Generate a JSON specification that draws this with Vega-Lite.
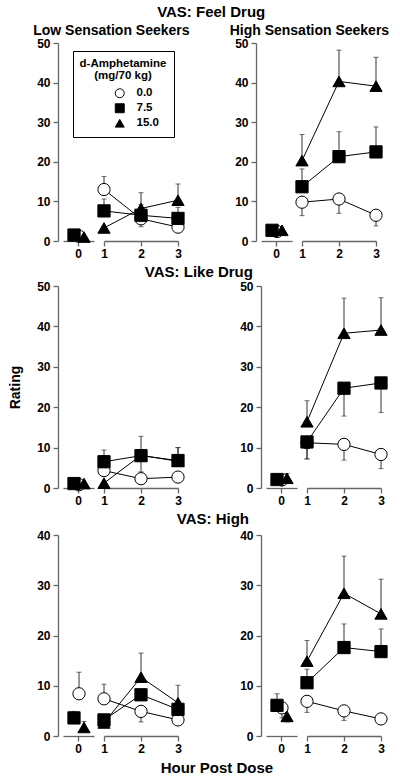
{
"$schema": "https://vega.github.io/schema/vega-lite/v6.json",
"padding": {"left": 8, "top": 5, "right": 5, "bottom": 3},
"title": {"text": "Hour Post Dose", "orient": "bottom", "fontSize": 15, "dx": 18, "offset": 7},
"datasets": {"d": [
{"m":"F","g":"low","h":0,"dose":"0.0","v":1.2,"e":1.2},{"m":"F","g":"low","h":0,"dose":"7.5","v":1.5,"e":1.5},{"m":"F","g":"low","h":0,"dose":"15.0","v":1.0,"e":1.0},
{"m":"F","g":"low","h":1,"dose":"0.0","v":13.0,"e":16.3},{"m":"F","g":"low","h":1,"dose":"7.5","v":7.6,"e":10.6},{"m":"F","g":"low","h":1,"dose":"15.0","v":3.3,"e":3.3},
{"m":"F","g":"low","h":2,"dose":"0.0","v":5.6,"e":3.6},{"m":"F","g":"low","h":2,"dose":"7.5","v":6.5,"e":9.2},{"m":"F","g":"low","h":2,"dose":"15.0","v":8.2,"e":12.2},
{"m":"F","g":"low","h":3,"dose":"0.0","v":3.5,"e":3.5},{"m":"F","g":"low","h":3,"dose":"7.5","v":5.7,"e":8.5},{"m":"F","g":"low","h":3,"dose":"15.0","v":10.3,"e":14.4},
{"m":"F","g":"high","h":0,"dose":"0.0","v":2.4,"e":2.4},{"m":"F","g":"high","h":0,"dose":"7.5","v":2.7,"e":2.7},{"m":"F","g":"high","h":0,"dose":"15.0","v":2.7,"e":2.7},
{"m":"F","g":"high","h":1,"dose":"0.0","v":9.8,"e":6.4},{"m":"F","g":"high","h":1,"dose":"7.5","v":13.7,"e":18.2},{"m":"F","g":"high","h":1,"dose":"15.0","v":20.3,"e":26.9},
{"m":"F","g":"high","h":2,"dose":"0.0","v":10.6,"e":7.0},{"m":"F","g":"high","h":2,"dose":"7.5","v":21.3,"e":27.6},{"m":"F","g":"high","h":2,"dose":"15.0","v":40.3,"e":48.2},
{"m":"F","g":"high","h":3,"dose":"0.0","v":6.5,"e":3.8},{"m":"F","g":"high","h":3,"dose":"7.5","v":22.5,"e":28.8},{"m":"F","g":"high","h":3,"dose":"15.0","v":39.1,"e":46.4},
{"m":"L","g":"low","h":0,"dose":"0.0","v":0.8,"e":0.8},{"m":"L","g":"low","h":0,"dose":"7.5","v":1.1,"e":1.1},{"m":"L","g":"low","h":0,"dose":"15.0","v":1.1,"e":1.1},
{"m":"L","g":"low","h":1,"dose":"0.0","v":4.3,"e":4.3},{"m":"L","g":"low","h":1,"dose":"7.5","v":6.5,"e":9.4},{"m":"L","g":"low","h":1,"dose":"15.0","v":1.2,"e":1.2},
{"m":"L","g":"low","h":2,"dose":"0.0","v":2.3,"e":2.3},{"m":"L","g":"low","h":2,"dose":"7.5","v":8.0,"e":12.8},{"m":"L","g":"low","h":2,"dose":"15.0","v":8.1,"e":4.0},
{"m":"L","g":"low","h":3,"dose":"0.0","v":2.7,"e":2.7},{"m":"L","g":"low","h":3,"dose":"7.5","v":6.8,"e":10.0},{"m":"L","g":"low","h":3,"dose":"15.0","v":6.6,"e":10.0},
{"m":"L","g":"high","h":0,"dose":"0.0","v":2.0,"e":2.0},{"m":"L","g":"high","h":0,"dose":"7.5","v":2.1,"e":2.1},{"m":"L","g":"high","h":0,"dose":"15.0","v":2.4,"e":3.6},
{"m":"L","g":"high","h":1,"dose":"0.0","v":11.2,"e":7.2},{"m":"L","g":"high","h":1,"dose":"7.5","v":11.4,"e":7.2},{"m":"L","g":"high","h":1,"dose":"15.0","v":16.4,"e":21.6},
{"m":"L","g":"high","h":2,"dose":"0.0","v":10.8,"e":6.9},{"m":"L","g":"high","h":2,"dose":"7.5","v":24.7,"e":17.8},{"m":"L","g":"high","h":2,"dose":"15.0","v":38.3,"e":47.0},
{"m":"L","g":"high","h":3,"dose":"0.0","v":8.3,"e":4.8},{"m":"L","g":"high","h":3,"dose":"7.5","v":26.0,"e":18.7},{"m":"L","g":"high","h":3,"dose":"15.0","v":39.1,"e":47.1},
{"m":"H","g":"low","h":0,"dose":"0.0","v":8.4,"e":12.7},{"m":"H","g":"low","h":0,"dose":"7.5","v":3.6,"e":4.9},{"m":"H","g":"low","h":0,"dose":"15.0","v":1.7,"e":2.9},
{"m":"H","g":"low","h":1,"dose":"0.0","v":7.4,"e":10.3},{"m":"H","g":"low","h":1,"dose":"7.5","v":3.2,"e":3.2},{"m":"H","g":"low","h":1,"dose":"15.0","v":2.6,"e":2.6},
{"m":"H","g":"low","h":2,"dose":"0.0","v":4.9,"e":2.8},{"m":"H","g":"low","h":2,"dose":"7.5","v":8.2,"e":8.2},{"m":"H","g":"low","h":2,"dose":"15.0","v":11.7,"e":16.5},
{"m":"H","g":"low","h":3,"dose":"0.0","v":3.2,"e":3.2},{"m":"H","g":"low","h":3,"dose":"7.5","v":5.3,"e":5.3},{"m":"H","g":"low","h":3,"dose":"15.0","v":6.6,"e":10.1},
{"m":"H","g":"high","h":0,"dose":"0.0","v":5.6,"e":3.6},{"m":"H","g":"high","h":0,"dose":"7.5","v":6.1,"e":8.4},{"m":"H","g":"high","h":0,"dose":"15.0","v":3.9,"e":2.8},
{"m":"H","g":"high","h":1,"dose":"0.0","v":6.9,"e":4.7},{"m":"H","g":"high","h":1,"dose":"7.5","v":10.6,"e":13.3},{"m":"H","g":"high","h":1,"dose":"15.0","v":14.9,"e":19.0},
{"m":"H","g":"high","h":2,"dose":"0.0","v":5.0,"e":3.1},{"m":"H","g":"high","h":2,"dose":"7.5","v":17.6,"e":22.3},{"m":"H","g":"high","h":2,"dose":"15.0","v":28.4,"e":35.8},
{"m":"H","g":"high","h":3,"dose":"0.0","v":3.4,"e":4.4},{"m":"H","g":"high","h":3,"dose":"7.5","v":16.8,"e":21.3},{"m":"H","g":"high","h":3,"dose":"15.0","v":24.3,"e":31.2}
]},
"config": {
  "font": "Liberation Sans",
  "view": {"stroke": null},
  "axis": {"labelFont": "Liberation Sans", "labelFontSize": 12, "labelFontWeight": "bold", "labelColor": "black", "domainColor": "#666", "domainWidth": 1.3, "tickColor": "#666", "tickWidth": 1.3, "tickSize": 5, "grid": false, "titleFont": "Liberation Sans", "titleFontSize": 14, "titleFontWeight": "bold", "titleColor": "black"},
  "axisX": {"labelPadding": 2, "labelFlush": false, "format": "d"},
  "axisY": {"labelPadding": 3},
  "title": {"font": "Liberation Sans", "fontSize": 15, "fontWeight": "bold", "color": "black", "anchor": "middle", "offset": 4}
},
"spacing": 6,
"resolve": {"scale": {"x": "independent", "y": "independent", "shape": "independent", "fill": "independent", "stroke": "independent", "xOffset": "independent"}},
"vconcat": [
{
 "title": {"text": "VAS: Feel Drug", "offset": 4},
 "spacing": 39,
 "resolve": {"scale": {"x": "independent", "y": "independent", "shape": "independent", "fill": "independent", "stroke": "independent", "xOffset": "independent"}},
 "hconcat": [
  {
   "title": {"text": "Low Sensation Seekers", "fontSize": 14, "offset": -1},
   "bounds": "flush", "spacing": 10,
   "resolve": {"scale": {"x": "independent", "y": "independent", "shape": "independent", "fill": "independent", "stroke": "independent", "xOffset": "independent"}},
   "hconcat": [
    {"width": 31, "height": 198, "data": {"name": "d"},
     "transform": [{"filter": "datum.m=='F' && datum.g=='low' && datum.h==0"}],
     "encoding": {
      "x": {"field": "h", "type": "ordinal", "title": null, "scale": {"type": "band", "paddingInner": 0, "paddingOuter": 0}, "axis": {"labelAngle": 0}},
      "xOffset": {"field": "dose", "type": "nominal", "scale": {"type": "point", "domain": ["7.5","0.0","15.0"], "range": [11, 21], "padding": 0}},
      "y": {"field": "v", "type": "quantitative", "title": null, "scale": {"domain": [0, 50]}, "axis": {"values": [0,10,20,30,40,50], "offset": 5}}
     },
     "layer": [
      {"mark": {"type": "rule", "color": "#333", "strokeWidth": 1}, "encoding": {"y2": {"field": "e"}}},
      {"mark": {"type": "tick", "orient": "horizontal", "size": 5, "thickness": 1, "color": "#333"}, "encoding": {"y": {"field": "e", "type": "quantitative", "title": null}}},
      {"mark": {"type": "point", "filled": true, "size": 150, "strokeWidth": 1, "opacity": 1},
       "encoding": {
        "shape": {"field": "dose", "type": "nominal", "scale": {"domain": ["0.0","7.5","15.0"], "range": ["circle","square","triangle-up"]},
          "legend": {"orient": "none", "legendX": 10, "legendY": 8, "title": ["d-Amphetamine", "(mg/70 kg)"], "titleFont": "Liberation Sans", "titleFontSize": 11.5, "titleFontWeight": "bold", "titleColor": "black", "titleAlign": "center", "titleAnchor": "middle", "titleLineHeight": 12, "titlePadding": 6, "labelFont": "Liberation Sans", "labelFontSize": 11.5, "labelFontWeight": "bold", "labelColor": "black", "labelOffset": 11, "symbolSize": 80, "symbolStrokeWidth": 1, "symbolOffset": 26, "strokeColor": "black", "padding": 7, "fillColor": "white", "rowPadding": 1}},
        "fill": {"field": "dose", "type": "nominal", "scale": {"domain": ["0.0","7.5","15.0"], "range": ["white","black","black"]},
          "legend": {"orient": "none", "legendX": 10, "legendY": 8, "title": ["d-Amphetamine", "(mg/70 kg)"], "titleFont": "Liberation Sans", "titleFontSize": 11.5, "titleFontWeight": "bold", "titleColor": "black", "titleAlign": "center", "titleAnchor": "middle", "titleLineHeight": 12, "titlePadding": 6, "labelFont": "Liberation Sans", "labelFontSize": 11.5, "labelFontWeight": "bold", "labelColor": "black", "labelOffset": 11, "symbolSize": 80, "symbolStrokeWidth": 1, "symbolOffset": 26, "strokeColor": "black", "padding": 7, "fillColor": "white", "rowPadding": 1}},
        "stroke": {"field": "dose", "type": "nominal", "scale": {"domain": ["0.0","7.5","15.0"], "range": ["black","black","black"]},
          "legend": {"orient": "none", "legendX": 10, "legendY": 8, "title": ["d-Amphetamine", "(mg/70 kg)"], "titleFont": "Liberation Sans", "titleFontSize": 11.5, "titleFontWeight": "bold", "titleColor": "black", "titleAlign": "center", "titleAnchor": "middle", "titleLineHeight": 12, "titlePadding": 6, "labelFont": "Liberation Sans", "labelFontSize": 11.5, "labelFontWeight": "bold", "labelColor": "black", "labelOffset": 11, "symbolSize": 80, "symbolStrokeWidth": 1, "symbolOffset": 26, "strokeColor": "black", "padding": 7, "fillColor": "white", "rowPadding": 1}}
       }}
     ]},
    {"width": 74, "height": 198, "data": {"name": "d"},
     "transform": [{"filter": "datum.m=='F' && datum.g=='low' && datum.h>0"}],
     "encoding": {
      "x": {"field": "h", "type": "quantitative", "title": null, "scale": {"domain": [1, 3]}, "axis": {"values": [1,2,3]}},
      "xOffset": {"field": "dose", "type": "nominal", "scale": {"type": "point", "domain": ["7.5","0.0","15.0"], "range": [-1.5, 3], "padding": 0}},
      "y": {"field": "v", "type": "quantitative", "title": null, "scale": {"domain": [0, 50]}, "axis": null}
     },
     "layer": [
      {"mark": {"type": "line", "color": "black", "strokeWidth": 1}, "encoding": {"detail": {"field": "dose", "type": "nominal"}}},
      {"mark": {"type": "rule", "color": "#333", "strokeWidth": 1}, "encoding": {"y2": {"field": "e"}}},
      {"mark": {"type": "tick", "orient": "horizontal", "size": 5, "thickness": 1, "color": "#333"}, "encoding": {"y": {"field": "e", "type": "quantitative", "title": null}}},
      {"mark": {"type": "point", "filled": true, "size": 150, "stroke": "black", "strokeWidth": 1, "opacity": 1},
       "encoding": {"shape": {"field": "dose", "type": "nominal", "scale": {"domain": ["0.0","7.5","15.0"], "range": ["circle","square","triangle-up"]}, "legend": null},
                    "fill": {"field": "dose", "type": "nominal", "scale": {"domain": ["0.0","7.5","15.0"], "range": ["white","black","black"]}, "legend": null}}}
     ]}
   ]
  },
  {
   "title": {"text": "High Sensation Seekers", "fontSize": 14, "offset": -1},
   "bounds": "flush", "spacing": 10,
   "resolve": {"scale": {"x": "independent", "y": "independent", "shape": "independent", "fill": "independent", "stroke": "independent", "xOffset": "independent"}},
   "hconcat": [
    {"width": 31, "height": 198, "data": {"name": "d"},
     "transform": [{"filter": "datum.m=='F' && datum.g=='high' && datum.h==0"}],
     "encoding": {
      "x": {"field": "h", "type": "ordinal", "title": null, "scale": {"type": "band", "paddingInner": 0, "paddingOuter": 0}, "axis": {"labelAngle": 0}},
      "xOffset": {"field": "dose", "type": "nominal", "scale": {"type": "point", "domain": ["7.5","0.0","15.0"], "range": [11, 21], "padding": 0}},
      "y": {"field": "v", "type": "quantitative", "title": null, "scale": {"domain": [0, 50]}, "axis": {"values": [0,10,20,30,40,50], "offset": 5}}
     },
     "layer": [
      {"mark": {"type": "rule", "color": "#333", "strokeWidth": 1}, "encoding": {"y2": {"field": "e"}}},
      {"mark": {"type": "tick", "orient": "horizontal", "size": 5, "thickness": 1, "color": "#333"}, "encoding": {"y": {"field": "e", "type": "quantitative", "title": null}}},
      {"mark": {"type": "point", "filled": true, "size": 150, "stroke": "black", "strokeWidth": 1, "opacity": 1},
       "encoding": {"shape": {"field": "dose", "type": "nominal", "scale": {"domain": ["0.0","7.5","15.0"], "range": ["circle","square","triangle-up"]}, "legend": null},
                    "fill": {"field": "dose", "type": "nominal", "scale": {"domain": ["0.0","7.5","15.0"], "range": ["white","black","black"]}, "legend": null}}}
     ]},
    {"width": 74, "height": 198, "data": {"name": "d"},
     "transform": [{"filter": "datum.m=='F' && datum.g=='high' && datum.h>0"}],
     "encoding": {
      "x": {"field": "h", "type": "quantitative", "title": null, "scale": {"domain": [1, 3]}, "axis": {"values": [1,2,3]}},
      "xOffset": {"field": "dose", "type": "nominal", "scale": {"type": "point", "domain": ["7.5","0.0","15.0"], "range": [-1.5, 3], "padding": 0}},
      "y": {"field": "v", "type": "quantitative", "title": null, "scale": {"domain": [0, 50]}, "axis": null}
     },
     "layer": [
      {"mark": {"type": "line", "color": "black", "strokeWidth": 1}, "encoding": {"detail": {"field": "dose", "type": "nominal"}}},
      {"mark": {"type": "rule", "color": "#333", "strokeWidth": 1}, "encoding": {"y2": {"field": "e"}}},
      {"mark": {"type": "tick", "orient": "horizontal", "size": 5, "thickness": 1, "color": "#333"}, "encoding": {"y": {"field": "e", "type": "quantitative", "title": null}}},
      {"mark": {"type": "point", "filled": true, "size": 150, "stroke": "black", "strokeWidth": 1, "opacity": 1},
       "encoding": {"shape": {"field": "dose", "type": "nominal", "scale": {"domain": ["0.0","7.5","15.0"], "range": ["circle","square","triangle-up"]}, "legend": null},
                    "fill": {"field": "dose", "type": "nominal", "scale": {"domain": ["0.0","7.5","15.0"], "range": ["white","black","black"]}, "legend": null}}}
     ]}
   ]
  }
 ]
},
{
 "title": {"text": "VAS: Like Drug", "offset": 0},
 "spacing": 52,
 "resolve": {"scale": {"x": "independent", "y": "independent", "shape": "independent", "fill": "independent", "stroke": "independent", "xOffset": "independent"}},
 "hconcat": [
  {
   "bounds": "flush", "spacing": 10,
   "resolve": {"scale": {"x": "independent", "y": "independent", "shape": "independent", "fill": "independent", "stroke": "independent", "xOffset": "independent"}},
   "hconcat": [
    {"width": 31, "height": 202, "data": {"name": "d"},
     "transform": [{"filter": "datum.m=='L' && datum.g=='low' && datum.h==0"}],
     "encoding": {
      "x": {"field": "h", "type": "ordinal", "title": null, "scale": {"type": "band", "paddingInner": 0, "paddingOuter": 0}, "axis": {"labelAngle": 0}},
      "xOffset": {"field": "dose", "type": "nominal", "scale": {"type": "point", "domain": ["7.5","0.0","15.0"], "range": [11, 21], "padding": 0}},
      "y": {"field": "v", "type": "quantitative", "scale": {"domain": [0, 50]}, "axis": {"values": [0,10,20,30,40,50], "offset": 5, "title": "Rating", "titlePadding": 14}}
     },
     "layer": [
      {"mark": {"type": "rule", "color": "#333", "strokeWidth": 1}, "encoding": {"y2": {"field": "e"}}},
      {"mark": {"type": "tick", "orient": "horizontal", "size": 5, "thickness": 1, "color": "#333"}, "encoding": {"y": {"field": "e", "type": "quantitative"}}},
      {"mark": {"type": "point", "filled": true, "size": 150, "stroke": "black", "strokeWidth": 1, "opacity": 1},
       "encoding": {"shape": {"field": "dose", "type": "nominal", "scale": {"domain": ["0.0","7.5","15.0"], "range": ["circle","square","triangle-up"]}, "legend": null},
                    "fill": {"field": "dose", "type": "nominal", "scale": {"domain": ["0.0","7.5","15.0"], "range": ["white","black","black"]}, "legend": null}}}
     ]},
    {"width": 74, "height": 202, "data": {"name": "d"},
     "transform": [{"filter": "datum.m=='L' && datum.g=='low' && datum.h>0"}],
     "encoding": {
      "x": {"field": "h", "type": "quantitative", "title": null, "scale": {"domain": [1, 3]}, "axis": {"values": [1,2,3]}},
      "xOffset": {"field": "dose", "type": "nominal", "scale": {"type": "point", "domain": ["7.5","0.0","15.0"], "range": [-1.5, 3], "padding": 0}},
      "y": {"field": "v", "type": "quantitative", "title": null, "scale": {"domain": [0, 50]}, "axis": null}
     },
     "layer": [
      {"mark": {"type": "line", "color": "black", "strokeWidth": 1}, "encoding": {"detail": {"field": "dose", "type": "nominal"}}},
      {"mark": {"type": "rule", "color": "#333", "strokeWidth": 1}, "encoding": {"y2": {"field": "e"}}},
      {"mark": {"type": "tick", "orient": "horizontal", "size": 5, "thickness": 1, "color": "#333"}, "encoding": {"y": {"field": "e", "type": "quantitative", "title": null}}},
      {"mark": {"type": "point", "filled": true, "size": 150, "stroke": "black", "strokeWidth": 1, "opacity": 1},
       "encoding": {"shape": {"field": "dose", "type": "nominal", "scale": {"domain": ["0.0","7.5","15.0"], "range": ["circle","square","triangle-up"]}, "legend": null},
                    "fill": {"field": "dose", "type": "nominal", "scale": {"domain": ["0.0","7.5","15.0"], "range": ["white","black","black"]}, "legend": null}}}
     ]}
   ]
  },
  {
   "bounds": "flush", "spacing": 10,
   "resolve": {"scale": {"x": "independent", "y": "independent", "shape": "independent", "fill": "independent", "stroke": "independent", "xOffset": "independent"}},
   "hconcat": [
    {"width": 31, "height": 202, "data": {"name": "d"},
     "transform": [{"filter": "datum.m=='L' && datum.g=='high' && datum.h==0"}],
     "encoding": {
      "x": {"field": "h", "type": "ordinal", "title": null, "scale": {"type": "band", "paddingInner": 0, "paddingOuter": 0}, "axis": {"labelAngle": 0}},
      "xOffset": {"field": "dose", "type": "nominal", "scale": {"type": "point", "domain": ["7.5","0.0","15.0"], "range": [11, 21], "padding": 0}},
      "y": {"field": "v", "type": "quantitative", "title": null, "scale": {"domain": [0, 50]}, "axis": {"values": [0,10,20,30,40,50], "offset": 5}}
     },
     "layer": [
      {"mark": {"type": "rule", "color": "#333", "strokeWidth": 1}, "encoding": {"y2": {"field": "e"}}},
      {"mark": {"type": "tick", "orient": "horizontal", "size": 5, "thickness": 1, "color": "#333"}, "encoding": {"y": {"field": "e", "type": "quantitative", "title": null}}},
      {"mark": {"type": "point", "filled": true, "size": 150, "stroke": "black", "strokeWidth": 1, "opacity": 1},
       "encoding": {"shape": {"field": "dose", "type": "nominal", "scale": {"domain": ["0.0","7.5","15.0"], "range": ["circle","square","triangle-up"]}, "legend": null},
                    "fill": {"field": "dose", "type": "nominal", "scale": {"domain": ["0.0","7.5","15.0"], "range": ["white","black","black"]}, "legend": null}}}
     ]},
    {"width": 74, "height": 202, "data": {"name": "d"},
     "transform": [{"filter": "datum.m=='L' && datum.g=='high' && datum.h>0"}],
     "encoding": {
      "x": {"field": "h", "type": "quantitative", "title": null, "scale": {"domain": [1, 3]}, "axis": {"values": [1,2,3]}},
      "xOffset": {"field": "dose", "type": "nominal", "scale": {"type": "point", "domain": ["7.5","0.0","15.0"], "range": [-1.5, 3], "padding": 0}},
      "y": {"field": "v", "type": "quantitative", "title": null, "scale": {"domain": [0, 50]}, "axis": null}
     },
     "layer": [
      {"mark": {"type": "line", "color": "black", "strokeWidth": 1}, "encoding": {"detail": {"field": "dose", "type": "nominal"}}},
      {"mark": {"type": "rule", "color": "#333", "strokeWidth": 1}, "encoding": {"y2": {"field": "e"}}},
      {"mark": {"type": "tick", "orient": "horizontal", "size": 5, "thickness": 1, "color": "#333"}, "encoding": {"y": {"field": "e", "type": "quantitative", "title": null}}},
      {"mark": {"type": "point", "filled": true, "size": 150, "stroke": "black", "strokeWidth": 1, "opacity": 1},
       "encoding": {"shape": {"field": "dose", "type": "nominal", "scale": {"domain": ["0.0","7.5","15.0"], "range": ["circle","square","triangle-up"]}, "legend": null},
                    "fill": {"field": "dose", "type": "nominal", "scale": {"domain": ["0.0","7.5","15.0"], "range": ["white","black","black"]}, "legend": null}}}
     ]}
   ]
  }
 ]
},
{
 "title": {"text": "VAS: High", "offset": 2},
 "spacing": 52,
 "resolve": {"scale": {"x": "independent", "y": "independent", "shape": "independent", "fill": "independent", "stroke": "independent", "xOffset": "independent"}},
 "hconcat": [
  {
   "bounds": "flush", "spacing": 10,
   "resolve": {"scale": {"x": "independent", "y": "independent", "shape": "independent", "fill": "independent", "stroke": "independent", "xOffset": "independent"}},
   "hconcat": [
    {"width": 31, "height": 201, "data": {"name": "d"},
     "transform": [{"filter": "datum.m=='H' && datum.g=='low' && datum.h==0"}],
     "encoding": {
      "x": {"field": "h", "type": "ordinal", "title": null, "scale": {"type": "band", "paddingInner": 0, "paddingOuter": 0}, "axis": {"labelAngle": 0}},
      "xOffset": {"field": "dose", "type": "nominal", "scale": {"type": "point", "domain": ["7.5","0.0","15.0"], "range": [11, 21], "padding": 0}},
      "y": {"field": "v", "type": "quantitative", "title": null, "scale": {"domain": [0, 40]}, "axis": {"values": [0,10,20,30,40], "offset": 5}}
     },
     "layer": [
      {"mark": {"type": "rule", "color": "#333", "strokeWidth": 1}, "encoding": {"y2": {"field": "e"}}},
      {"mark": {"type": "tick", "orient": "horizontal", "size": 5, "thickness": 1, "color": "#333"}, "encoding": {"y": {"field": "e", "type": "quantitative", "title": null}}},
      {"mark": {"type": "point", "filled": true, "size": 150, "stroke": "black", "strokeWidth": 1, "opacity": 1},
       "encoding": {"shape": {"field": "dose", "type": "nominal", "scale": {"domain": ["0.0","7.5","15.0"], "range": ["circle","square","triangle-up"]}, "legend": null},
                    "fill": {"field": "dose", "type": "nominal", "scale": {"domain": ["0.0","7.5","15.0"], "range": ["white","black","black"]}, "legend": null}}}
     ]},
    {"width": 74, "height": 201, "data": {"name": "d"},
     "transform": [{"filter": "datum.m=='H' && datum.g=='low' && datum.h>0"}],
     "encoding": {
      "x": {"field": "h", "type": "quantitative", "title": null, "scale": {"domain": [1, 3]}, "axis": {"values": [1,2,3]}},
      "xOffset": {"field": "dose", "type": "nominal", "scale": {"type": "point", "domain": ["7.5","0.0","15.0"], "range": [-1.5, 3], "padding": 0}},
      "y": {"field": "v", "type": "quantitative", "title": null, "scale": {"domain": [0, 40]}, "axis": null}
     },
     "layer": [
      {"mark": {"type": "line", "color": "black", "strokeWidth": 1}, "encoding": {"detail": {"field": "dose", "type": "nominal"}}},
      {"mark": {"type": "rule", "color": "#333", "strokeWidth": 1}, "encoding": {"y2": {"field": "e"}}},
      {"mark": {"type": "tick", "orient": "horizontal", "size": 5, "thickness": 1, "color": "#333"}, "encoding": {"y": {"field": "e", "type": "quantitative", "title": null}}},
      {"mark": {"type": "point", "filled": true, "size": 150, "stroke": "black", "strokeWidth": 1, "opacity": 1},
       "encoding": {"shape": {"field": "dose", "type": "nominal", "scale": {"domain": ["0.0","7.5","15.0"], "range": ["circle","square","triangle-up"]}, "legend": null},
                    "fill": {"field": "dose", "type": "nominal", "scale": {"domain": ["0.0","7.5","15.0"], "range": ["white","black","black"]}, "legend": null}}}
     ]}
   ]
  },
  {
   "bounds": "flush", "spacing": 10,
   "resolve": {"scale": {"x": "independent", "y": "independent", "shape": "independent", "fill": "independent", "stroke": "independent", "xOffset": "independent"}},
   "hconcat": [
    {"width": 31, "height": 201, "data": {"name": "d"},
     "transform": [{"filter": "datum.m=='H' && datum.g=='high' && datum.h==0"}],
     "encoding": {
      "x": {"field": "h", "type": "ordinal", "title": null, "scale": {"type": "band", "paddingInner": 0, "paddingOuter": 0}, "axis": {"labelAngle": 0}},
      "xOffset": {"field": "dose", "type": "nominal", "scale": {"type": "point", "domain": ["7.5","0.0","15.0"], "range": [11, 21], "padding": 0}},
      "y": {"field": "v", "type": "quantitative", "title": null, "scale": {"domain": [0, 40]}, "axis": {"values": [0,10,20,30,40], "offset": 5}}
     },
     "layer": [
      {"mark": {"type": "rule", "color": "#333", "strokeWidth": 1}, "encoding": {"y2": {"field": "e"}}},
      {"mark": {"type": "tick", "orient": "horizontal", "size": 5, "thickness": 1, "color": "#333"}, "encoding": {"y": {"field": "e", "type": "quantitative", "title": null}}},
      {"mark": {"type": "point", "filled": true, "size": 150, "stroke": "black", "strokeWidth": 1, "opacity": 1},
       "encoding": {"shape": {"field": "dose", "type": "nominal", "scale": {"domain": ["0.0","7.5","15.0"], "range": ["circle","square","triangle-up"]}, "legend": null},
                    "fill": {"field": "dose", "type": "nominal", "scale": {"domain": ["0.0","7.5","15.0"], "range": ["white","black","black"]}, "legend": null}}}
     ]},
    {"width": 74, "height": 201, "data": {"name": "d"},
     "transform": [{"filter": "datum.m=='H' && datum.g=='high' && datum.h>0"}],
     "encoding": {
      "x": {"field": "h", "type": "quantitative", "title": null, "scale": {"domain": [1, 3]}, "axis": {"values": [1,2,3]}},
      "xOffset": {"field": "dose", "type": "nominal", "scale": {"type": "point", "domain": ["7.5","0.0","15.0"], "range": [-1.5, 3], "padding": 0}},
      "y": {"field": "v", "type": "quantitative", "title": null, "scale": {"domain": [0, 40]}, "axis": null}
     },
     "layer": [
      {"mark": {"type": "line", "color": "black", "strokeWidth": 1}, "encoding": {"detail": {"field": "dose", "type": "nominal"}}},
      {"mark": {"type": "rule", "color": "#333", "strokeWidth": 1}, "encoding": {"y2": {"field": "e"}}},
      {"mark": {"type": "tick", "orient": "horizontal", "size": 5, "thickness": 1, "color": "#333"}, "encoding": {"y": {"field": "e", "type": "quantitative", "title": null}}},
      {"mark": {"type": "point", "filled": true, "size": 150, "stroke": "black", "strokeWidth": 1, "opacity": 1},
       "encoding": {"shape": {"field": "dose", "type": "nominal", "scale": {"domain": ["0.0","7.5","15.0"], "range": ["circle","square","triangle-up"]}, "legend": null},
                    "fill": {"field": "dose", "type": "nominal", "scale": {"domain": ["0.0","7.5","15.0"], "range": ["white","black","black"]}, "legend": null}}}
     ]}
   ]
  }
 ]
}
]
}
